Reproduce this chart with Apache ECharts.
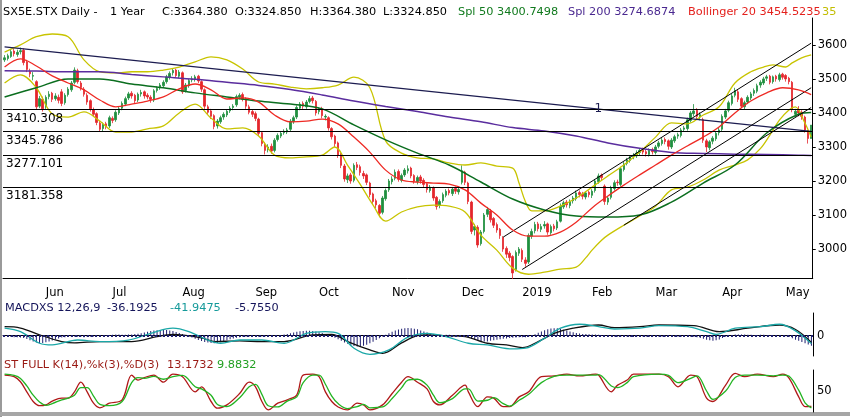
<!DOCTYPE html>
<html><head><meta charset="utf-8">
<script src="https://cdn.jsdelivr.net/npm/echarts@6/dist/echarts.min.js"></script>
<style>html,body{margin:0;padding:0;background:#fff}#c{width:850px;height:417px}</style>
</head><body><div id="c"></div><script>
const F = '"DejaVu Sans", sans-serif';
const monthNames = ['Jan','Feb','Mar','Apr','May','Jun','Jul','Aug','Sep','Oct','Nov','Dec'];
const holidays = ['2018-12-25','2018-12-26','2019-01-01','2019-04-19','2019-04-22','2019-05-01'];
const firstDay = '2018-05-15', lastDay = '2019-05-14';
const dates = [];
(function(){
  let d = new Date(firstDay + 'T00:00:00Z');
  const end = new Date(lastDay + 'T00:00:00Z');
  while (d <= end) {
    const s = d.toISOString().slice(0,10), w = d.getUTCDay();
    if (w !== 0 && w !== 6 && holidays.indexOf(s) < 0) dates.push(s);
    d = new Date(d.getTime() + 86400000);
  }
})();

// daily candles [open, close, low, high]
const candles = [
[3556,3562,3550,3570],[3560,3568,3554,3574],[3566,3580,3562,3588],[3582,3574,3566,3590],[3572,3578,3565,3586],
[3580,3583,3572,3592],[3584,3548,3540,3590],[3550,3528,3520,3556],[3522,3515,3505,3530],[3508,3510,3496,3520],
[3492,3418,3410,3496],[3420,3442,3414,3450],[3440,3412,3404,3448],[3418,3446,3412,3452],[3448,3455,3440,3464],
[3458,3440,3432,3462],[3442,3450,3436,3458],[3446,3437,3428,3454],[3462,3428,3420,3470],[3430,3452,3424,3458],
[3454,3470,3448,3476],[3468,3488,3462,3494],[3490,3526,3484,3534],[3524,3492,3486,3530],[3488,3475,3466,3494],
[3470,3455,3448,3476],[3452,3432,3424,3458],[3436,3412,3404,3440],[3410,3396,3388,3416],[3398,3372,3364,3402],
[3370,3352,3344,3376],[3354,3366,3346,3372],[3368,3360,3352,3374],[3362,3386,3356,3392],[3384,3378,3370,3390],
[3380,3402,3374,3408],[3400,3412,3394,3418],[3414,3428,3408,3434],[3426,3442,3420,3448],[3444,3456,3438,3462],
[3458,3450,3442,3464],[3452,3436,3428,3456],[3438,3455,3432,3460],[3456,3460,3448,3468],[3462,3450,3442,3466],
[3452,3447,3440,3458],[3446,3440,3430,3452],[3438,3465,3432,3470],[3466,3472,3460,3478],[3474,3482,3468,3488],
[3480,3490,3474,3496],[3492,3506,3486,3512],[3504,3516,3498,3522],[3518,3525,3510,3532],[3526,3510,3504,3530],
[3508,3520,3502,3526],[3518,3462,3456,3522],[3466,3482,3460,3488],[3480,3495,3474,3500],[3497,3500,3490,3508],
[3498,3506,3492,3512],[3508,3494,3488,3512],[3492,3470,3462,3496],[3468,3420,3412,3472],[3418,3402,3394,3424],
[3406,3390,3382,3412],[3392,3360,3352,3396],[3362,3376,3354,3382],[3374,3386,3368,3392],[3388,3396,3380,3402],
[3394,3405,3388,3410],[3406,3414,3400,3420],[3416,3420,3408,3426],[3424,3448,3418,3454],[3446,3452,3440,3458],
[3454,3440,3434,3460],[3442,3420,3412,3446],[3418,3402,3396,3424],[3404,3396,3388,3410],[3398,3384,3376,3404],
[3382,3340,3332,3386],[3342,3310,3302,3346],[3308,3290,3278,3314],[3292,3300,3284,3308],[3302,3288,3280,3310],
[3290,3320,3284,3326],[3322,3334,3316,3340],[3332,3340,3326,3346],[3342,3346,3336,3352],[3344,3350,3338,3356],
[3352,3376,3346,3382],[3374,3386,3368,3392],[3388,3416,3382,3422],[3414,3426,3408,3432],[3428,3420,3412,3434],
[3418,3432,3412,3438],[3434,3442,3428,3450],[3444,3436,3428,3450],[3434,3400,3392,3438],[3404,3410,3396,3416],
[3412,3392,3384,3418],[3388,3390,3378,3396],[3386,3356,3348,3390],[3354,3330,3322,3358],[3332,3310,3300,3336],
[3312,3276,3268,3316],[3278,3246,3238,3282],[3244,3206,3198,3250],[3204,3215,3194,3222],[3218,3200,3192,3224],
[3202,3246,3196,3252],[3248,3240,3232,3256],[3242,3225,3216,3248],[3222,3215,3206,3230],[3218,3196,3188,3222],
[3194,3160,3152,3198],[3162,3140,3132,3166],[3142,3130,3120,3148],[3128,3105,3094,3132],[3108,3150,3102,3156],
[3148,3172,3142,3178],[3174,3200,3168,3206],[3198,3206,3190,3214],[3208,3226,3202,3234],[3228,3205,3198,3234],
[3202,3216,3196,3222],[3218,3232,3212,3238],[3230,3236,3222,3246],[3238,3215,3208,3242],[3216,3200,3192,3220],
[3198,3210,3190,3216],[3212,3200,3192,3218],[3202,3190,3182,3208],[3192,3175,3166,3196],[3172,3182,3166,3188],
[3180,3150,3142,3184],[3152,3125,3116,3156],[3128,3140,3120,3146],[3142,3160,3136,3166],[3158,3170,3152,3176],
[3172,3165,3158,3178],[3163,3176,3156,3182],[3178,3170,3162,3184],[3168,3175,3160,3182],[3196,3230,3190,3246],
[3226,3196,3188,3230],[3194,3140,3132,3198],[3138,3052,3044,3142],[3056,3066,3040,3074],[3064,3012,3004,3070],
[3016,3050,3010,3056],[3052,3100,3046,3106],[3102,3116,3094,3124],[3112,3086,3078,3118],[3090,3070,3062,3094],
[3072,3056,3048,3078],[3058,3040,3030,3062],[3034,3000,2992,3038],[3002,2985,2974,3008],[2988,2975,2964,2994],
[2978,2930,2912,2982],[2940,2990,2934,2996],[2988,3000,2980,3006],[2996,2970,2962,3002],[2968,2958,2948,2976],
[2962,3040,2956,3046],[3038,3052,3030,3060],[3054,3072,3046,3080],[3074,3060,3052,3080],[3058,3066,3050,3074],
[3068,3072,3060,3082],[3074,3050,3042,3078],[3048,3066,3042,3072],[3068,3060,3052,3074],[3062,3080,3056,3086],
[3082,3126,3078,3134],[3124,3136,3118,3142],[3138,3130,3122,3144],[3128,3140,3120,3146],[3142,3150,3134,3156],
[3148,3165,3142,3172],[3166,3160,3152,3172],[3162,3155,3146,3168],[3153,3165,3146,3170],[3167,3160,3152,3172],
[3158,3170,3150,3176],[3172,3200,3166,3206],[3198,3215,3192,3222],[3217,3210,3200,3222],[3185,3140,3130,3190],
[3138,3150,3130,3156],[3152,3180,3146,3186],[3178,3195,3172,3202],[3197,3195,3186,3204],[3190,3236,3184,3242],
[3234,3250,3228,3256],[3252,3262,3246,3268],[3260,3270,3254,3276],[3272,3276,3264,3282],[3274,3282,3268,3290],
[3284,3290,3276,3296],[3292,3285,3278,3298],[3286,3280,3272,3292],[3278,3290,3272,3296],[3292,3286,3278,3298],
[3284,3300,3278,3306],[3302,3312,3296,3318],[3310,3320,3304,3328],[3322,3316,3308,3328],[3318,3302,3292,3322],
[3300,3320,3294,3326],[3318,3330,3312,3336],[3332,3336,3324,3342],[3334,3350,3328,3356],[3352,3356,3344,3362],
[3354,3380,3348,3386],[3378,3400,3372,3406],[3398,3406,3390,3426],[3408,3390,3382,3414],[3388,3395,3378,3402],
[3380,3320,3312,3386],[3318,3300,3285,3324],[3298,3315,3290,3320],[3317,3326,3308,3332],[3324,3340,3318,3346],
[3342,3350,3334,3356],[3352,3390,3346,3396],[3388,3406,3382,3412],[3408,3430,3402,3436],[3428,3450,3422,3456],
[3452,3466,3446,3474],[3462,3440,3432,3468],[3442,3420,3414,3446],[3418,3430,3410,3436],[3432,3446,3426,3452],
[3444,3456,3438,3462],[3458,3466,3450,3472],[3464,3480,3458,3486],[3482,3490,3474,3496],[3488,3500,3482,3506],
[3502,3506,3494,3512],[3508,3490,3484,3512],[3492,3506,3486,3510],[3508,3500,3492,3512],[3498,3512,3492,3518],
[3514,3505,3498,3518],[3510,3500,3492,3514],[3502,3492,3484,3506],[3490,3410,3402,3494],[3396,3405,3388,3412],
[3408,3400,3390,3420],[3402,3390,3380,3408],[3388,3350,3342,3392],[3345,3325,3310,3350],[3324.85,3364.38,3324.85,3364.38]
];

// indicator readings [barIndex, value]
const sma50 = [[0,3447],[10,3474],[20,3500],[30,3500],[40,3485],[50,3474],[60,3459],[70,3447],[80,3435],[90,3426],[100,3412],[110,3365],[120,3321],[130,3282],[140,3247],[150,3197],[160,3147],[170,3115],[180,3097],[190,3094],[200,3100],[210,3138],[220,3194],[230,3247],[240,3341],[250,3396],[254,3401]];
const sma200 = [[0,3524],[10,3523],[20,3521],[30,3521],[40,3513],[50,3506],[60,3499],[70,3490],[80,3481],[90,3469],[100,3453],[110,3435],[120,3419],[130,3404],[140,3388],[150,3374],[160,3357],[170,3347],[180,3332],[190,3312],[200,3296],[210,3284],[220,3281],[230,3279],[240,3278],[250,3276],[254,3275]];
const bbMid = [[0,3535],[5,3559],[10,3538],[15,3509],[20,3488],[25,3468],[30,3438],[35,3418],[40,3426],[45,3435],[50,3447],[55,3471],[60,3485],[65,3468],[70,3441],[75,3444],[80,3432],[85,3394],[90,3374],[95,3376],[100,3382],[105,3368],[110,3329],[115,3285],[120,3232],[125,3203],[130,3197],[135,3194],[140,3191],[145,3174],[150,3135],[155,3100],[160,3056],[165,3038],[170,3038],[175,3050],[180,3079],[185,3121],[190,3156],[195,3188],[200,3218],[205,3247],[210,3276],[215,3303],[220,3329],[225,3359],[230,3400],[235,3435],[240,3459],[245,3474],[250,3468],[254,3454]];
const bbUpper = [[0,3579],[5,3600],[10,3624],[15,3632],[20,3624],[25,3556],[30,3521],[35,3518],[40,3521],[45,3521],[50,3526],[55,3535],[60,3550],[65,3565],[70,3556],[75,3529],[80,3491],[85,3485],[90,3476],[95,3471],[100,3474],[105,3482],[110,3505],[115,3475],[120,3318],[125,3282],[130,3268],[135,3265],[140,3253],[145,3247],[150,3253],[155,3244],[160,3238],[162,3194],[164,3140],[166,3112],[170,3112],[175,3126],[180,3150],[185,3182],[190,3215],[195,3247],[200,3285],[205,3329],[210,3371],[215,3368],[220,3394],[225,3418],[230,3488],[235,3521],[239,3535],[242,3541],[246,3535],[248,3547],[251,3562],[254,3571]];
const bbLower = [[0,3488],[5,3512],[10,3474],[15,3397],[20,3388],[25,3403],[30,3376],[35,3344],[40,3344],[45,3353],[50,3362],[55,3400],[60,3426],[65,3385],[70,3353],[75,3356],[80,3332],[85,3276],[90,3268],[95,3271],[100,3276],[104,3300],[108,3247],[112,3190],[116,3130],[120,3082],[125,3109],[130,3124],[135,3129],[140,3126],[145,3109],[150,3041],[155,2997],[160,2944],[165,2926],[170,2932],[175,2941],[180,2947],[183,2974],[185,2997],[188,3026],[190,3041],[195,3070],[200,3097],[205,3126],[210,3174],[215,3182],[220,3203],[225,3232],[230,3247],[234,3262],[238,3295],[241,3335],[244,3379],[247,3409],[249,3418],[252,3371],[254,3329]];

// drawn trend lines [barIndex, value]
const downTrend = [[0,3594],[254,3346]];
const channelUpper = [[157,3035],[254,3605]];
const channelLower = [[163,2940],[254,3474]];
const channelThird = [[195,3070],[254,3416]];
const levels = [3410.308, 3345.786, 3277.101, 3181.358];
const levelLabels = ['3410.308','3345.786','3277.101','3181.358'];
const priceTicks = [3000,3100,3200,3300,3400,3500,3600];

// MACD (12,26,9)
const macdBlack = [[0,47],[5,40],[11,4],[18,-31],[22,-38],[30,-31],[40,-31],[48,-5],[53,7],[62,-12],[66,-31],[74,-28],[81,-31],[88,-31],[97,4],[103,7],[108,-31],[115,-75],[119,-93],[125,-38],[130,0],[133,4],[139,0],[145,-5],[152,-40],[158,-49],[163,-63],[168,-31],[173,12],[179,39],[187,56],[192,42],[200,47],[206,56],[217,53],[225,21],[234,39],[244,56],[249,32],[254,-36]];
const macdTeal = [[0,40],[5,21],[11,-40],[15,-49],[23,-23],[30,-31],[39,-23],[46,12],[53,39],[58,21],[64,-23],[68,-40],[74,-23],[81,-23],[88,-40],[95,12],[101,21],[105,12],[110,-66],[115,-98],[121,-75],[127,-8],[133,12],[139,-5],[146,-40],[152,-49],[160,-70],[164,-66],[170,-14],[175,39],[181,60],[187,47],[192,35],[200,39],[206,53],[215,47],[221,21],[224,7],[230,39],[238,47],[244,60],[249,25],[254,-42]];
const macdHist = [
-0.6,-0.7,-0.8,-0.9,-1.0,-1.1,
-1.4,-2.0,-2.7,-3.4,-4.0,-4.4,-4.2,-3.8,-3.3,-2.8,-2.2,-1.6,-1.1,
-0.9,-0.8,-0.6,-0.5,-0.6,-0.8,-0.9,-0.8,-0.6,-0.5,-0.4,-0.3,
0.2,0.3,0.4,0.5,0.6,0.6,0.5,0.5,0.6,0.7,0.9,1.1,
1.4,1.8,2.2,2.6,2.9,3.1,3.2,3.3,3.2,3.0,2.6,2.1,1.5,0.9,0.3,-0.4,
-1.1,-1.8,-2.5,-3.1,-3.6,-4.0,-4.3,-4.4,-4.2,-3.8,-3.3,-2.7,-2.1,-1.6,-1.2,-0.9,-0.7,-0.6,
-0.5,-0.5,-0.6,-0.6,-0.5,-0.5,-0.4,-0.3,-0.2,0.0,0.3,0.6,
1.0,1.4,1.8,2.2,2.5,2.7,2.8,2.8,2.7,2.4,2.0,1.5,0.9,0.3,-0.4,
-1.2,-2.1,-3.0,-3.9,-4.7,-5.4,-5.9,-6.3,-6.2,-5.8,-5.2,-4.4,-3.5,-2.5,-1.5,
-0.5,0.5,1.4,2.2,2.9,3.5,4.0,4.3,4.4,4.3,4.0,3.6,3.0,2.4,1.8,1.2,0.8,
0.5,0.4,0.4,0.5,0.5,0.4,0.2,0.0,
-0.3,-0.7,-1.2,-1.8,-2.4,-2.9,-3.3,-3.4,-3.3,-3.0,-2.7,-2.4,-2.1,-1.8,-1.6,-1.4,-1.2,
-1.1,-1.0,-1.0,-0.9,-0.6,
0.0,0.8,1.6,2.4,3.1,3.7,4.1,4.3,4.2,3.9,3.4,2.9,2.4,1.9,1.5,1.2,1.0,
0.9,0.8,0.7,0.6,0.5,0.3,0.1,-0.2,
-0.4,-0.5,-0.6,-0.7,-0.7,-0.8,-0.8,-0.8,-0.7,-0.7,-0.6,-0.6,-0.7,-0.8,-0.8,-0.7,-0.6,-0.6,-0.7,-0.8,-0.8,-0.7,-0.6,-0.5,-0.5,-0.6,-0.8,-1.0,-1.3,
-1.8,-2.3,-2.7,-2.9,-2.7,-2.2,-1.4,
-0.6,0.0,0.4,0.6,0.7,0.7,0.6,0.5,0.5,0.4,0.4,0.5,0.5,0.4,0.3,0.2,0.2,0.1,-0.1,
-0.4,-0.8,-1.5,-2.3,-3.0,-3.7,-4.4,-5.1,-5.755
];

// Stochastic full K(14),%k(3),%D(3)
const stochK = [[0,88],[3,84],[5,72],[7,48],[9,25],[11,15],[13,17],[15,26],[18,33],[20,33],[22,48],[24,71],[26,48],[28,21],[30,10],[33,21],[37,29],[40,88],[42,76],[44,82],[47,88],[50,71],[53,90],[56,84],[60,48],[62,60],[65,25],[67,9],[70,17],[74,44],[77,71],[79,60],[81,25],[83,5],[86,21],[89,29],[92,41],[94,88],[97,90],[99,84],[101,48],[103,25],[105,12],[108,5],[111,21],[113,17],[115,5],[119,17],[122,44],[125,71],[127,84],[130,71],[133,55],[135,25],[137,17],[141,40],[145,64],[146,48],[149,13],[152,36],[154,33],[157,13],[159,13],[162,36],[165,48],[169,84],[173,86],[177,90],[181,86],[186,90],[187,88],[191,48],[193,64],[196,76],[198,90],[206,90],[209,84],[212,60],[216,88],[218,84],[221,33],[223,25],[227,64],[230,92],[233,84],[237,90],[242,84],[245,90],[247,80],[250,36],[252,13],[254,13.1732]];
const stochD = [[0,90],[3,87],[5,80],[7,62],[9,40],[11,24],[13,16],[15,20],[18,29],[20,33],[22,40],[24,58],[26,58],[28,38],[30,18],[33,15],[37,25],[40,70],[42,82],[44,80],[47,85],[50,78],[53,84],[56,87],[60,60],[62,55],[65,40],[67,18],[70,13],[74,34],[77,60],[79,66],[81,42],[83,15],[86,12],[89,26],[92,36],[94,70],[97,88],[99,88],[101,66],[103,38],[105,20],[108,8],[111,13],[113,18],[115,10],[119,12],[122,32],[125,58],[127,76],[130,78],[133,64],[135,40],[137,22],[141,32],[145,55],[146,55],[149,26],[152,28],[154,34],[157,20],[159,14],[162,28],[165,42],[169,70],[173,85],[177,88],[181,88],[186,88],[187,89],[191,62],[193,58],[196,70],[198,84],[206,90],[209,87],[212,70],[216,80],[218,86],[221,50],[223,30],[227,50],[230,82],[233,88],[237,88],[242,86],[245,88],[247,85],[250,52],[252,22],[254,9.8832]];

const isMonthStart = dates.map((d,i) => i > 0 && d.slice(5,7) !== dates[i-1].slice(5,7));
const tickFn = (i) => isMonthStart[i];
const labelFn = (v) => { const m = +v.slice(5,7); return m === 1 ? v.slice(0,4) : monthNames[m-1]; };
const plainNum = (v) => String(v);

const C = {
  up:'#1f8f3f', down:'#e4262c', sma50:'#0b6e1f', sma200:'#5a2d9e', mid:'#ee2a24', band:'#c8c400',
  trend:'#1c1c50', macdB:'#111111', macdT:'#1aa7a7', hist:'#1e1e70', stK:'#b01818', stD:'#22b422'
};
function ln(name, data, color, w, x, y, extra) {
  return Object.assign({type:'line', name, data, xAxisIndex:x, yAxisIndex:y, showSymbol:false, symbol:'none',
    smooth:0.35, lineStyle:{color, width:w}, itemStyle:{color}, silent:true, animation:false}, extra||{});
}
function seg(name, data, color, w, extra) {
  return Object.assign({type:'line', name, data, xAxisIndex:0, yAxisIndex:0, showSymbol:false, symbol:'none',
    smooth:false, lineStyle:{color, width:w}, silent:true, animation:false}, extra||{});
}
function txt(x, y, text, fill) {
  return {type:'text', x, y, silent:true, style:{text, fill, font:'11.3px ' + F, verticalAlign:'middle'}};
}

const chart = echarts.init(document.getElementById('c'));
chart.setOption({
  animation:false, backgroundColor:'#fff',
  grid:[
    {left:3, top:18, width:810, height:260},
    {left:3, top:313, width:810, height:43},
    {left:3, top:370, width:810, height:42}
  ],
  xAxis:[
    {gridIndex:0, type:'category', data:dates, boundaryGap:true,
     axisLine:{lineStyle:{color:'#000', width:1}},
     axisTick:{interval:tickFn, length:5, lineStyle:{color:'#000'}},
     axisLabel:{interval:tickFn, formatter:labelFn, align:'left', margin:9, color:'#000', fontSize:11.5, fontFamily:F},
     splitLine:{show:false}},
    {gridIndex:1, type:'category', data:dates, boundaryGap:true,
     axisLine:{lineStyle:{color:'#000', width:1}}, axisTick:{show:false}, axisLabel:{show:false}, splitLine:{show:false}},
    {gridIndex:2, type:'category', data:dates, boundaryGap:true,
     axisLine:{show:false}, axisTick:{show:false}, axisLabel:{show:false}, splitLine:{show:false}}
  ],
  yAxis:[
    {gridIndex:0, type:'value', position:'right', min:2915, max:3679, scale:true,
     axisLine:{show:true, lineStyle:{color:'#000'}},
     axisTick:{show:true, customValues:priceTicks, length:3, lineStyle:{color:'#000'}},
     axisLabel:{customValues:priceTicks, formatter:plainNum, margin:5, color:'#000', fontSize:11.5, fontFamily:F},
     splitLine:{show:false}},
    {gridIndex:1, type:'value', position:'right', min:-107, max:119,
     axisLine:{show:true, lineStyle:{color:'#000'}}, axisTick:{show:false},
     axisLabel:{customValues:[0], formatter:plainNum, margin:4, color:'#000', fontSize:11.5, fontFamily:F}, splitLine:{show:false}},
    {gridIndex:1, type:'value', position:'right', min:-11.7, max:13, show:false, splitLine:{show:false}},
    {gridIndex:2, type:'value', position:'right', min:0, max:100,
     axisLine:{show:true, lineStyle:{color:'#000'}}, axisTick:{show:false},
     axisLabel:{customValues:[50], formatter:plainNum, margin:4, color:'#000', fontSize:11.5, fontFamily:F}, splitLine:{show:false}}
  ],
  series:[
    ln('BB upper', bbUpper, C.band, 1.3, 0, 0),
    ln('BB lower', bbLower, C.band, 1.3, 0, 0),
    ln('Spl 200', sma200, C.sma200, 1.5, 0, 0),
    ln('Spl 50', sma50, C.sma50, 1.5, 0, 0),
    seg('Trend', downTrend, C.trend, 1.3, {
      markPoint:{silent:true, animation:false, symbol:'rect', symbolSize:1, itemStyle:{color:'rgba(0,0,0,0)'},
        label:{show:true, formatter:'1', position:'inside', color:C.trend, fontSize:12, fontFamily:F},
        data:[{coord:[dates[187], 3411]}]}
    }),
    seg('Channel upper', channelUpper, '#000', 1),
    seg('Channel lower', channelLower, '#000', 1),
    seg('Channel third', channelThird, '#000', 1),
    {type:'candlestick', name:'SX5E', data:candles, xAxisIndex:0, yAxisIndex:0, barWidth:2, silent:true, animation:false,
     itemStyle:{color:C.up, color0:C.down, borderColor:C.up, borderColor0:C.down, borderWidth:0.8},
     markLine:{symbol:'none', silent:true, animation:false, lineStyle:{color:'#000', width:1, type:'solid'},
       label:{position:'insideStartBottom', formatter:'{b}', color:'#000', fontSize:12, fontFamily:F, distance:[3,3]},
       data: levels.map((v,k) => ({yAxis:v, name:levelLabels[k]}))}},
    ln('Bollinger 20', bbMid, C.mid, 1.3, 0, 0),
    {type:'bar', name:'MACD hist', data:macdHist, xAxisIndex:1, yAxisIndex:2, barWidth:1, silent:true, animation:false,
     itemStyle:{color:C.hist},
     markLine:{symbol:'none', silent:true, animation:false, label:{show:false},
       lineStyle:{color:C.hist, width:2, type:[2,2]}, data:[{yAxis:0}]}},
    ln('MACD', macdBlack, C.macdB, 1.3, 1, 1),
    ln('Signal', macdTeal, C.macdT, 1.3, 1, 1),
    ln('%K', stochK, C.stK, 1.3, 2, 3),
    ln('%D', stochD, C.stD, 1.3, 2, 3)
  ],
  graphic:[
    {type:'rect', silent:true, shape:{x:0, y:0, width:2, height:417}, style:{fill:'#9a9a9a'}},
    {type:'rect', silent:true, shape:{x:0, y:412, width:850, height:4}, style:{fill:'#a6a6a6'}},
    txt(3, 12, 'SX5E.STX Daily -', '#000'),
    txt(110, 12, '1 Year', '#000'),
    txt(162, 12, 'C:3364.380', '#000'),
    txt(235, 12, 'O:3324.850', '#000'),
    txt(310, 12, 'H:3364.380', '#000'),
    txt(383, 12, 'L:3324.850', '#000'),
    txt(458, 12, 'Spl 50 3400.7498', '#117a1e'),
    txt(568, 12, 'Spl 200 3274.6874', '#4a2890'),
    txt(688, 12, 'Bollinger 20 3454.5235', '#e4201c'),
    txt(822, 12, '35', '#c2bd00'),
    txt(5, 308, 'MACDXS 12,26,9', '#14145a'),
    txt(107, 308, '-36.1925', '#14145a'),
    txt(170, 308, '-41.9475', '#159a9a'),
    txt(235, 308, '-5.7550', '#14145a'),
    txt(4, 365, 'ST FULL K(14),%k(3),%D(3)', '#9a1a14'),
    txt(167, 365, '13.1732', '#9a1a14'),
    txt(217, 365, '9.8832', '#22a022')
  ]
});
</script></body></html>
